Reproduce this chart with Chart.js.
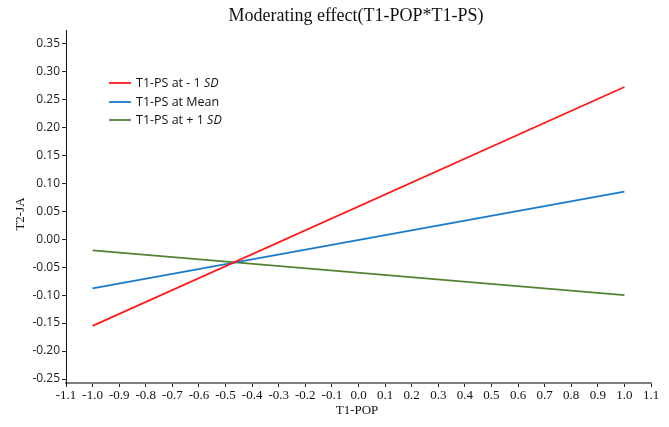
<!DOCTYPE html>
<html>
<head>
<meta charset="utf-8">
<script src="https://cdn.jsdelivr.net/npm/chart.js@4.4.1/dist/chart.umd.min.js"></script>
<style>
html,body{margin:0;padding:0;background:#fff;}
#wrap{width:669px;height:427px;position:relative;}
</style>
</head>
<body>
<div id="wrap"><canvas id="c" width="669" height="427"></canvas></div>
<script>
const titleText = 'Moderating effect(T1-POP*T1-PS)';
const xTitle = 'T1-POP';
const yTitle = 'T2-JA';
const xValues = [-1.0, 1.0];
const lowSD = [-0.155, 0.272];
const meanPS = [-0.088, 0.085];
const highSD = [-0.020, -0.100];
const seriesLabels = [['T1-PS at - 1 ', 'SD'], ['T1-PS at Mean', ''], ['T1-PS at + 1 ', 'SD']];
const seriesColors = ['#ff1a1a', '#1a7acb', '#548235'];
const xTicks = [-1.1,-1.0,-0.9,-0.8,-0.7,-0.6,-0.5,-0.4,-0.3,-0.2,-0.1,0.0,0.1,0.2,0.3,0.4,0.5,0.6,0.7,0.8,0.9,1.0,1.1];
const yTicks = [-0.25,-0.20,-0.15,-0.10,-0.05,0.00,0.05,0.10,0.15,0.20,0.25,0.30,0.35];

function pts(ys){ return xValues.map((x,i)=>({x:x,y:ys[i]})); }

const overlay = {
  id:'overlay',
  afterDraw(chart){
    const ctx = chart.ctx, a = chart.chartArea;
    ctx.save();
    ctx.fillStyle = '#111';
    ctx.textAlign = 'center';
    ctx.textBaseline = 'middle';
    ctx.font = '18px "Liberation Serif", serif';
    ctx.fillText(titleText, 356, 16);
    ctx.font = '13px "Liberation Serif", serif';
    ctx.fillText(xTitle, 357, 411);
    ctx.save();
    ctx.translate(21, 214);
    ctx.rotate(-Math.PI/2);
    ctx.fillText(yTitle, 0, 0);
    ctx.restore();
    // legend
    ctx.textAlign = 'left';
    const rows = [83, 102, 120];
    seriesLabels.forEach((lab, i) => {
      const y = rows[i];
      ctx.strokeStyle = seriesColors[i];
      ctx.lineWidth = 1.8;
      ctx.beginPath(); ctx.moveTo(109, y); ctx.lineTo(131, y); ctx.stroke();
      ctx.fillStyle = '#111';
      ctx.font = '12.5px "Open Sans", sans-serif';
      ctx.fillText(lab[0], 136, y);
      const w = ctx.measureText(lab[0]).width;
      if (lab[1]) {
        ctx.font = 'italic 12.5px "Open Sans", sans-serif';
        ctx.fillText(lab[1], 136 + w, y);
      }
    });
    ctx.restore();
  }
};

new Chart(document.getElementById('c'), {
  type: 'scatter',
  data: {
    datasets: [
      {label:'T1-PS at - 1 SD', data: pts(lowSD), showLine:true, borderColor: seriesColors[0], backgroundColor: seriesColors[0], borderWidth:1.8, pointRadius:0, fill:false},
      {label:'T1-PS at Mean', data: pts(meanPS), showLine:true, borderColor: seriesColors[1], backgroundColor: seriesColors[1], borderWidth:1.8, pointRadius:0, fill:false},
      {label:'T1-PS at + 1 SD', data: pts(highSD), showLine:true, borderColor: seriesColors[2], backgroundColor: seriesColors[2], borderWidth:1.8, pointRadius:0, fill:false}
    ]
  },
  options: {
    responsive:false,
    animation:false,
    layout:{padding:{left:0,right:18,top:30,bottom:0}},
    plugins:{legend:{display:false}, title:{display:false}, tooltip:{enabled:false}},
    scales:{
      x:{
        type:'linear', min:-1.1, max:1.1,
        afterBuildTicks(s){ s.ticks = xTicks.map(v=>({value:v})); },
        afterFit(s){ s.height = 44; },
        grid:{display:true, drawOnChartArea:false, drawTicks:true, tickLength:4, tickColor:'#222', tickWidth:1},
        border:{display:true, color:'#7f7f7f', width:2},
        ticks:{autoSkip:false, maxRotation:0, padding:1, color:'#111', font:{family:'"Liberation Serif", serif', size:13}, callback:(v)=>Number(v).toFixed(1)}
      },
      y:{
        type:'linear', min:-0.2571, max:0.3738,
        afterBuildTicks(s){ s.ticks = yTicks.map(v=>({value:v})); },
        afterFit(s){ s.width = 66; },
        grid:{display:true, drawOnChartArea:false, drawTicks:true, tickLength:4, tickColor:'#222', tickWidth:1},
        border:{display:true, color:'#111', width:1},
        ticks:{padding:2, color:'#222', font:{family:'"Open Sans", sans-serif', size:12}, callback:(v)=>Number(v).toFixed(2)}
      }
    }
  },
  plugins:[overlay]
});
</script>
</body>
</html>
